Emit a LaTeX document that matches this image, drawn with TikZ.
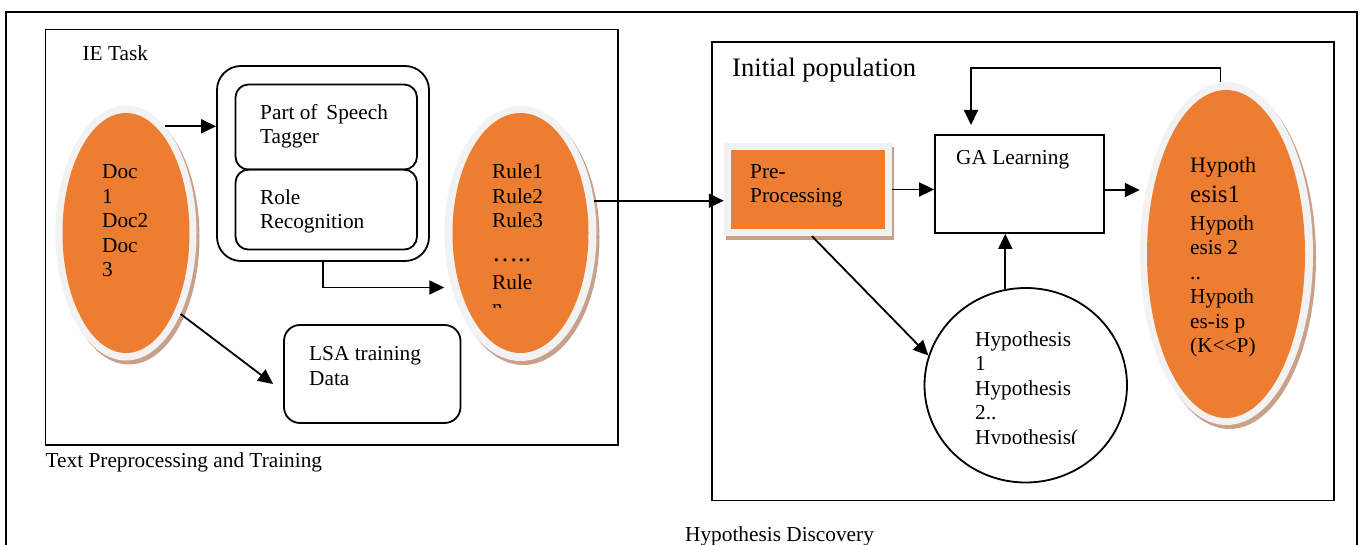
\documentclass[tikz,border=0pt]{standalone}
\usepackage{fontspec}
\setmainfont{Liberation Serif}
\usetikzlibrary{shapes.geometric,arrows.meta}
\definecolor{docorange}{HTML}{ED7D31}
\definecolor{ringgray}{HTML}{F2F2F2}
\definecolor{shadowbrown}{HTML}{C9A18B}
\begin{document}
\begin{tikzpicture}[x=1pt,y=-1pt,
	lbl/.style={font=\fontsize{21.3}{24.5}\selectfont, inner sep=0pt, align=left, anchor=base west},
	frame/.style={draw, line width=1.9pt},
	box/.style={draw, line width=1.8pt, inner sep=0pt},
	arr/.style={-{Triangle[length=15pt,width=14pt]}, line width=1.8pt},
	oval/.style={ellipse, inner sep=0pt},
	dropshadow/.style={oval, fill=shadowbrown},
	ring/.style={oval, fill=ringgray},
	blob/.style={oval, fill=docorange}]
	\useasboundingbox (0,0) rectangle (1361,545);

	% frames
	\draw[frame] (6,545) -- (6,12) -- (1357,12) -- (1357,545);
	\draw[frame] (45.5,29.5) rectangle (618,445);
	\draw[frame] (712,42.4) rectangle (1334,500.5);

	% text preprocessing and training (multi-line labels sit on their last line)
	\node[lbl] (ietask) at (82.4,60.8) {IE Task};
	\node[lbl] (lefttitle) at (45.5,467.5) {Text Preprocessing and Training};

	\node[dropshadow, minimum width=141, minimum height=255] (docshadow) at (129,237) {};
	\node[ring, minimum width=141, minimum height=255] (docring) at (126,233) {};
	\node[blob, minimum width=127, minimum height=240] (docs) at (126,233) {};
	\node[lbl] (doctext) at (102,277) {Doc\\1\\Doc2\\Doc\\3};

	\node[box, rounded corners=24pt, minimum width=212, minimum height=195] (pos) at (323,163.5) {};
	\node[box, rounded corners=13pt, minimum width=181.5, minimum height=85.1] (tagger) at (326.25,127.05) {};
	\node[box, rounded corners=13pt, minimum width=181.5, minimum height=80] (role) at (326.25,209.6) {};
	\node[lbl] (taggertext) at (260,144) {Part of\, Speech\\Tagger};
	\node[lbl] (roletext) at (260,229) {Role\\Recognition};

	\node[box, rounded corners=16pt, minimum width=176.5, minimum height=98] (lsa) at (372.25,374) {};
	\node[lbl] (lsatext) at (309,385) {LSA training\\Data};

	\node[dropshadow, minimum width=152, minimum height=255] (ruleshadow) at (523.5,237.5) {};
	\node[ring, minimum width=152, minimum height=255] (rulering) at (520.5,233.5) {};
	\node[blob, minimum width=136, minimum height=240] (rules) at (520.5,233) {};
	\node[lbl] (ruletext) at (492,228) {Rule1\\Rule2\\Rule3};
	\node[lbl, font=\fontsize{26}{30}\selectfont] (ruledots) at (492,262) {…..};
	\begin{scope}
		\clip (480,270) rectangle (600,308);
		\node[lbl] (rulen) at (492,314.5) {Rule\\n};
	\end{scope}

	\draw[arr] (docring.70) -- (docring.70 -| pos.west);
	\draw[arr] (pos.south) |- ([yshift=-54pt]rulering.west);
	\draw[arr] (docring.-56) -- ([xshift=-10pt,yshift=-10pt]lsa.west);

	% hypothesis discovery
	\node[lbl, font=\fontsize{26.6}{32}\selectfont] (inittitle) at (732,77) {Initial population};
	\node[lbl] (righttitle) at (685,541) {Hypothesis Discovery};

	\node[fill=shadowbrown, minimum width=168, minimum height=93] (preshadow) at (810,193.5) {};
	\node[fill=ringgray, minimum width=168, minimum height=93] (prering) at (808,189.5) {};
	\node[fill=docorange, minimum width=154, minimum height=79] (pre) at (808,189.5) {};
	\node[lbl] (pretext) at (750,203) {Pre-\\Processing};

	\node[box, minimum width=169, minimum height=98] (ga) at (1019.5,184) {};
	\node[lbl] (gatext) at (956,165) {GA Learning};

	\node[box, ellipse, minimum width=202.5, minimum height=194.5] (hset) at (1025.75,385.25) {};
	\begin{scope}
		\clip (960,320) rectangle (1100,443);
		\node[lbl] (hsettext) at (975,444) {Hypothesis\\1\\Hypothesis\\2..\\Hypothesis(};
	\end{scope}

	\node[dropshadow, minimum width=173, minimum height=343] (hypshadow) at (1229.5,257.5) {};
	\node[ring, minimum width=173, minimum height=343] (hypring) at (1226.5,253.5) {};
	\node[blob, minimum width=158, minimum height=328] (hyps) at (1226,254) {};
	\node[lbl, font=\fontsize{22}{26}\selectfont] (hyptext1) at (1190,173) {Hypoth};
	\node[lbl, font=\fontsize{25}{30}\selectfont] (hyptext2) at (1190,203) {esis1};
	\node[lbl] (hyptext3) at (1190,352.5) {Hypoth\\esis 2\\..\\Hypoth\\es-is p\\(K{<}{<}P)};

	\coordinate (loopcorner) at (971,68);
	\coordinate (loopend) at (971,125);

	\draw[arr] (rulering.24) -- (rulering.24 -| prering.west);
	\draw[arr] (prering.east) -- (prering.east -| ga.west);
	\draw[arr] ([yshift=-6pt]ga.east) -- ([yshift=-6pt]ga.east -| hypring.west);
	\draw[arr] (hset.102) -- (hset.102 |- ga.south);
	\draw[arr] ([xshift=4pt]prering.south) -- (hset.163);
	\draw[arr] ([xshift=-6pt]hypring.north) |- (loopcorner) -- (loopend);
\end{tikzpicture}
\end{document}
